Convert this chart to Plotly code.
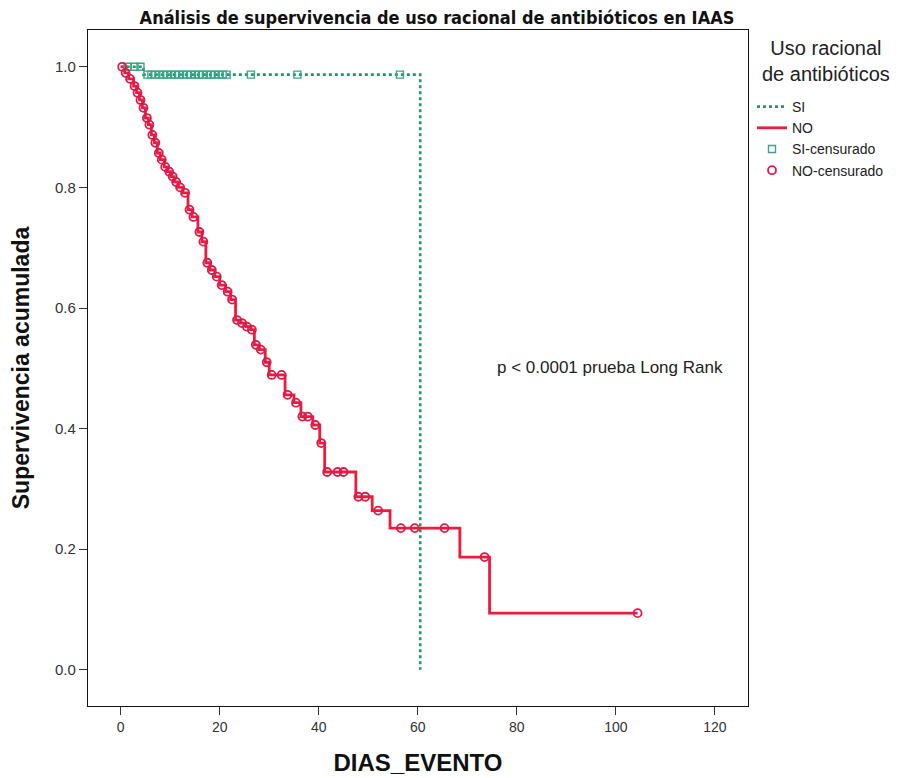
import plotly.graph_objects as go

# Kaplan-Meier estimates: event times and survival after each event
si_event_t = [4.6, 60.5]
si_event_s = [0.987, 0.0]
si_censor_t = [1.4, 2.8, 4.0, 5.4, 6.2, 7.0, 7.8, 8.6, 9.4, 10.2, 11.0, 11.8, 12.6,
               13.4, 14.2, 15.0, 15.8, 16.6, 17.4, 18.2, 19.0, 19.8, 20.6, 21.4,
               26.3, 35.7, 56.4]

no_event_t = [0.8, 1.6, 2.6, 3.2, 3.8, 4.4, 5.0, 5.6, 6.2, 6.8, 7.4, 8.0, 8.8, 9.4,
              10.2, 10.8, 11.6, 12.6, 13.6, 14.4, 15.6, 16.4, 17.2, 18.0, 19.0, 20.0,
              21.2, 22.2, 23.2, 24.3, 25.3, 26.3, 27.0, 28.0, 29.2, 30.0, 33.2, 35.0,
              36.4, 38.8, 40.2, 41.2, 47.5, 50.8, 54.4, 68.5, 74.5]
no_event_s = [0.990, 0.980, 0.968, 0.957, 0.945, 0.932, 0.915, 0.904, 0.887, 0.874,
              0.857, 0.846, 0.834, 0.826, 0.818, 0.809, 0.800, 0.791, 0.763, 0.751,
              0.726, 0.710, 0.675, 0.663, 0.652, 0.638, 0.627, 0.614, 0.580, 0.575,
              0.569, 0.564, 0.539, 0.531, 0.510, 0.489, 0.456, 0.443, 0.420, 0.406,
              0.376, 0.328, 0.287, 0.264, 0.235, 0.187, 0.094]
no_censor_t = [0.3, 1.0, 1.9, 2.8, 3.4, 4.0, 4.6, 5.3, 5.8, 6.4, 7.0, 7.7, 8.3, 9.0,
               9.8, 10.5, 11.2, 12.0, 13.0, 13.9, 14.7, 15.9, 16.7, 17.5, 18.4, 19.4,
               20.4, 21.6, 22.5, 23.5, 24.5, 25.5, 26.5, 27.3, 28.3, 29.5, 30.5, 32.5,
               33.7, 35.4, 36.7, 37.8, 39.3, 40.5, 41.7, 43.8, 45.0, 48.0, 49.4, 52.0,
               56.6, 59.4, 65.4, 73.5, 104.4]

x_ticks = [0, 20, 40, 60, 80, 100, 120]
y_ticks = [0.0, 0.2, 0.4, 0.6, 0.8, 1.0]


def surv_at(t, ev_t, ev_s):
    s = 1.0
    for et, es in zip(ev_t, ev_s):
        if et <= t:
            s = es
    return s


def step_path(ev_t, ev_s, t_end):
    xs = [0.0] + list(ev_t)
    ys = [1.0] + list(ev_s)
    if t_end > xs[-1]:
        xs.append(t_end)
        ys.append(ys[-1])
    return xs, ys


GREEN = "#1f9a62"
GREEN_SQ = "#3aa58a"
RED = "#ee1c3c"
RED_C = "#dc1a4c"
SANS = "Liberation Sans, Arial"
NARROW = "Liberation Sans Narrow, DejaVu Sans Condensed, Arial Narrow"

fig = go.Figure()

sx, sy = step_path(si_event_t, si_event_s, max(si_event_t))
fig.add_trace(go.Scatter(x=sx, y=sy, mode="lines", line_shape="hv", name="SI",
                         line=dict(color=GREEN, width=2.6, dash="3px,3px")))

nx, ny = step_path(no_event_t, no_event_s, max(no_censor_t))
fig.add_trace(go.Scatter(x=nx, y=ny, mode="lines", line_shape="hv", name="NO",
                         line=dict(color=RED, width=2.8)))

fig.add_trace(go.Scatter(
    x=si_censor_t, y=[surv_at(t, si_event_t, si_event_s) for t in si_censor_t],
    mode="markers", name="SI-censurado",
    marker=dict(symbol="square-open", size=7, color=GREEN_SQ, line=dict(width=1.4))))

fig.add_trace(go.Scatter(
    x=no_censor_t, y=[surv_at(t, no_event_t, no_event_s) for t in no_censor_t],
    mode="markers", name="NO-censurado",
    marker=dict(symbol="circle-open", size=8, color=RED_C, line=dict(width=1.8))))

fig.add_annotation(x=75.5, y=0.502, xref="x", yref="y", xanchor="left", yanchor="middle",
                   text="p < 0.0001 prueba Long Rank", showarrow=False,
                   font=dict(family=SANS, size=17, color="#222"))

# legend heading
fig.add_annotation(x=(826 - 88) / 660, y=(706 - 61) / 676, xref="paper", yref="paper",
                   xanchor="center", yanchor="middle", align="center",
                   text="Uso racional<br>de antibióticos", showarrow=False,
                   font=dict(family=SANS, size=20, color="#222"))

fig.update_layout(
    width=905, height=778,
    margin=dict(l=88, r=157, t=30, b=72),
    paper_bgcolor="white", plot_bgcolor="white",
    title=dict(text="<b>Análisis de supervivencia de uso racional de antibióticos en IAAS</b>",
               x=437 / 905, xanchor="center", y=1 - 18 / 778, yanchor="middle",
               font=dict(family=NARROW, size=18, color="#111")),
    legend=dict(x=(752 - 88) / 660, y=(706 - 91) / 676, xanchor="left", yanchor="top",
                font=dict(family=SANS, size=14, color="#222"),
                tracegroupgap=0, itemwidth=30, bgcolor="rgba(0,0,0,0)"),
    xaxis=dict(range=[-6.6, 126.7], tickvals=x_ticks, ticks="outside", ticklen=8,
               tickcolor="#333", showgrid=False, zeroline=False, automargin=False,
               showline=True, mirror=True, linecolor="#111", linewidth=1.2,
               tickfont=dict(family=SANS, size=14, color="#333"),
               title=dict(text="<b>DIAS_EVENTO</b>", standoff=20,
                          font=dict(family=SANS, size=24, color="#111"))),
    yaxis=dict(range=[-0.06, 1.061], tickvals=y_ticks, tickformat=".1f", ticks="outside",
               ticklen=8, tickcolor="#333", showgrid=False, zeroline=False, automargin=False,
               showline=True, mirror=True, linecolor="#111", linewidth=1.2,
               tickfont=dict(family=SANS, size=15, color="#333"),
               title=dict(text="<b>Supervivencia acumulada</b>", standoff=18,
                          font=dict(family=SANS, size=23, color="#111"))),
)

fig.write_html("out.html")
